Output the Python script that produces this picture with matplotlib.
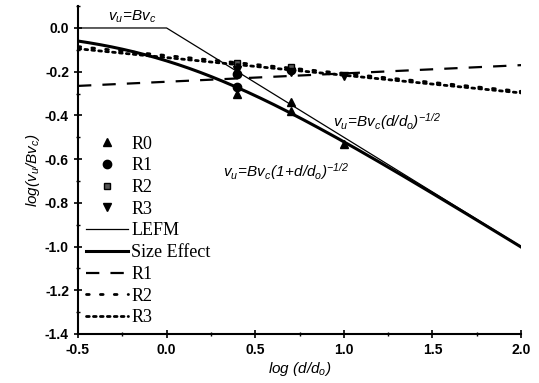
import numpy as np
import matplotlib
matplotlib.use("Agg")
import matplotlib.pyplot as plt
from matplotlib.ticker import MultipleLocator

plt.rcParams['mathtext.fontset'] = 'custom'
plt.rcParams['mathtext.it'] = 'Liberation Sans:italic'
plt.rcParams['mathtext.rm'] = 'Liberation Sans:italic'
plt.rcParams['font.family'] = 'Liberation Sans'

# Data (log(d/do), log(vu/Bvc))
r0_x = [0.4, 0.7, 0.7, 1.0]
r0_y = [-0.30, -0.34, -0.38, -0.53]
r1_x = [0.4, 0.4, 0.7]
r1_y = [-0.27, -0.21, -0.19]
r2_x = [0.4, 0.7]
r2_y = [-0.16, -0.18]
r3_x = [0.4, 0.7, 1.0]
r3_y = [-0.19, -0.20, -0.22]

lefm_x = [-0.5, 0.0, 2.0]
lefm_y = [0.0, 0.0, -1.0]

fit_r1_x = [-0.5, 2.0]
fit_r1_y = [-0.265, -0.17]
fit_r2_x = [-0.5, 2.0]
fit_r2_y = [-0.085, -0.29]
fit_r3_x = [-0.5, 2.0]
fit_r3_y = [-0.095, -0.297]

xs = np.linspace(-0.5, 2.0, 200)
size_eff = -0.5 * np.log10(1 + 10 ** xs)

fig = plt.figure(figsize=(5.39, 3.83), dpi=100)
ax = fig.add_axes([0.1447, 0.128, 0.822, 0.856])

ms = 6
h0, = ax.plot(r0_x, r0_y, '^', color='black', ms=ms, ls='none')
h1, = ax.plot(r1_x, r1_y, 'o', color='black', ms=ms, ls='none')
h2, = ax.plot(r2_x, r2_y, 's', color='#555555', mec='black', ms=5, ls='none')
h3, = ax.plot(r3_x, r3_y, 'v', color='black', ms=ms, ls='none')
hl, = ax.plot(lefm_x, lefm_y, color='black', lw=0.9)
hs, = ax.plot(xs, size_eff, color='black', lw=2.2)
hd1, = ax.plot(fit_r1_x, fit_r1_y, color='black', lw=1.6, ls=(0, (6, 5)))
hd2, = ax.plot(fit_r2_x, fit_r2_y, color='black', lw=2.0, ls=(0, (1, 4)), dash_capstyle='round')
hd3, = ax.plot(fit_r3_x, fit_r3_y, color='black', lw=2.0, ls=(0, (1, 1.5)), dash_capstyle='round')

ax.set_xlim(-0.5, 2.0)
ax.set_ylim(-1.4, 0.1)
ax.spines['top'].set_visible(False)
ax.spines['right'].set_visible(False)
ax.spines['left'].set_linewidth(1.5)
ax.spines['bottom'].set_linewidth(1.5)
ax.xaxis.set_major_locator(MultipleLocator(0.5))
ax.xaxis.set_minor_locator(MultipleLocator(0.25))
ax.yaxis.set_major_locator(MultipleLocator(0.2))
ax.yaxis.set_minor_locator(MultipleLocator(0.1))
ax.tick_params(which='major', direction='inout', length=6, width=1.2, labelsize=10)
ax.tick_params(which='minor', direction='inout', length=3, width=1.0)
ax.set_xticklabels([f'{v:.1f}' for v in ax.get_xticks()])
ax.set_yticklabels([f'{v:.1f}' if abs(v) > 1e-9 else '0.0' for v in ax.get_yticks()])
for lab in ax.get_xticklabels() + ax.get_yticklabels():
    lab.set_fontweight('bold')

ax.set_xlabel(r'$log\ (d/d_o)$', fontsize=11, labelpad=2)
ax.set_ylabel(r'$log(v_u/Bv_c)$', fontsize=11, labelpad=2)

ax.text(-0.33, 0.035, r'$v_u\!=\!Bv_c$', fontsize=11)
ax.text(0.94, -0.45, r'$v_u\!=\!Bv_c(d/d_o)^{-1/2}$', fontsize=11)
ax.text(0.32, -0.68, r'$v_u\!=\!Bv_c(1\!+\!d/d_o)^{-1/2}$', fontsize=11)

leg = ax.legend([h0, h1, h2, h3, hl, hs, hd1, hd2, hd3],
                ['R0', 'R1', 'R2', 'R3', 'LEFM', 'Size Effect', 'R1', 'R2', 'R3'],
                loc='lower left', bbox_to_anchor=(-0.01, -0.015), frameon=False,
                prop={'family': 'Liberation Serif', 'size': 13},
                handlelength=2.3, handletextpad=0.2, labelspacing=0.26,
                borderaxespad=0.3)

fig.savefig('out.png', dpi=100)
